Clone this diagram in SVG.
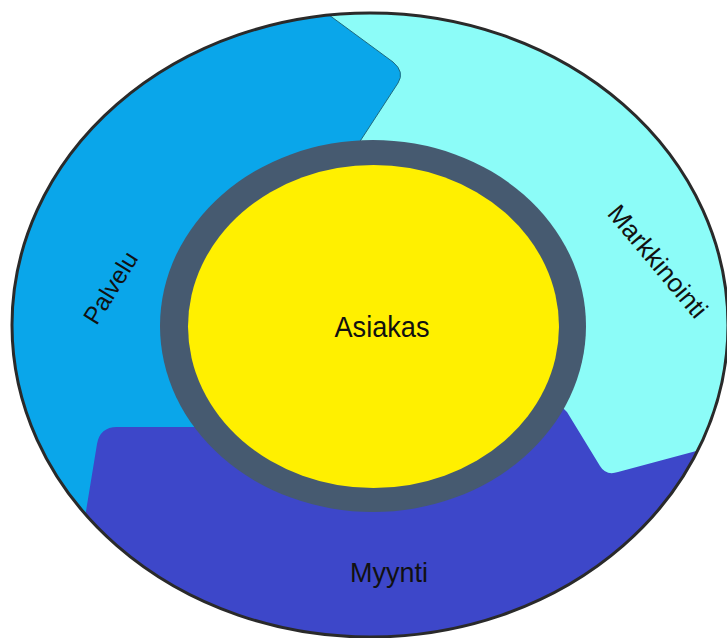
<svg xmlns="http://www.w3.org/2000/svg" width="727" height="638" viewBox="0 0 727 638">
  <style>
    .lbl { font-family: "Liberation Sans", Arial, sans-serif; fill: #111; text-anchor: middle; }
  </style>
  <defs>
    <clipPath id="outer">
      <ellipse cx="370" cy="325" rx="358" ry="312"/>
    </clipPath>
  </defs>
  <rect width="727" height="638" fill="#ffffff"/>
  <g id="markkinointi">
    <ellipse cx="370" cy="325" rx="358" ry="312" fill="#8cfcf8"/>
  </g>
  <g id="palvelu" clip-path="url(#outer)">
    <path d="M -10 -10 L 295 -10 L 393 62 Q 405 72 398 83 L 340 172 L 300 300 L 200 640 L -10 640 Z" fill="#0aa6ea" stroke="#1f6a7e" stroke-width="1"/>
  </g>
  <g id="myynti" clip-path="url(#outer)">
    <path d="M 78 560 L 97 444 Q 100 427 117 427 L 300 427 L 450 400 L 560 405 L 567 412 L 600 466 Q 606 476 618 472 L 700 450 L 760 436 L 760 660 L 60 660 Z" fill="#3d47c9"/>
  </g>
  <g id="asiakas">
    <ellipse cx="373" cy="326" rx="213" ry="186" fill="#465a70"/>
    <ellipse cx="373.5" cy="326.5" rx="185.5" ry="161.5" fill="#fff000"/>
    <text class="lbl" x="382" y="337" font-size="29" textLength="95" lengthAdjust="spacingAndGlyphs">Asiakas</text>
  </g>
  <g id="outline">
    <ellipse cx="370" cy="325" rx="358" ry="312" fill="none" stroke="#2a2a2a" stroke-width="3"/>
  </g>
  <g id="labels">
    <text class="lbl" font-size="24.5" transform="translate(111 288) rotate(-58)" x="0" y="8">Palvelu</text>
    <text class="lbl" font-size="26" transform="translate(657 262) rotate(50)" x="0" y="8">Markkinointi</text>
    <text class="lbl" x="389" y="582" font-size="28" textLength="78" lengthAdjust="spacingAndGlyphs">Myynti</text>
  </g>
  <g id="connectors"/>
</svg>
